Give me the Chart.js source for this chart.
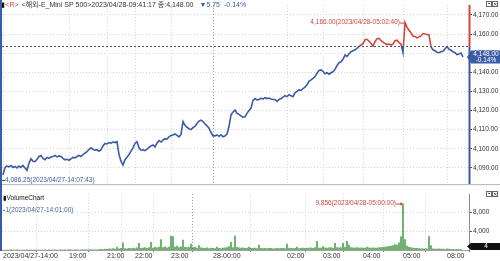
<!DOCTYPE html>
<html><head><meta charset="utf-8">
<script src="https://cdn.jsdelivr.net/npm/chart.js@4.4.0/dist/chart.umd.min.js"></script>
<style>
html,body{margin:0;padding:0;background:#fff;}
#wrap{position:relative;width:500px;height:261px;overflow:hidden;background:#fff;}
#c1{position:absolute;left:0;top:0;}
#c2{position:absolute;left:0;top:189px;}
#lb{position:absolute;left:0;top:0;width:2px;height:251px;background:#3a5ba6;}
</style></head><body>
<div id="wrap"><canvas id="c1" width="500" height="189"></canvas><canvas id="c2" width="500" height="72"></canvas><div id="lb"></div></div>
<script>
// ---------------- DATA ----------------
const price = [
4086.25,4090.25,4091,4090.5,4091.25,4090.25,4090.75,4090,4091,4090.25,
4091.25,4090,4088.75,4092.5,4094.75,4093.5,4093.25,4094.5,4096,4096.5,
4095,4094.25,4095.5,4095,4095.75,4096,4096.5,4095.75,4096.25,4096,
4095,4094.25,4094.5,4094,4094.75,4095.5,4095.25,4096,4096.5,4096,
4097,4097.75,4098.5,4099.75,4100.5,4099.75,4099.25,4099.5,4098.75,4099.5,
4101.5,4102.75,4102.5,4103.25,4103,4103.5,4103.25,4103.75,4097,4093.5,
4091.5,4094.25,4095.5,4097,4098.75,4100.5,4102.75,4103.75,4100.5,4099.25,
4099.5,4099,4099.75,4100.75,4101.5,4102,4101,4103,4104.25,4103.5,
4104.5,4105.25,4105,4106.25,4107,4107.25,4107.75,4107,4106.25,4107.5,
4114.25,4112.25,4111.25,4110.5,4110,4111,4111.75,4113.25,4114.5,4115,
4114.25,4113,4112,4110.75,4108.5,4106.75,4106.75,4107.25,4106.5,4107.25,
4106.25,4106.75,4107.75,4111.75,4117.75,4119.25,4120.25,4118.5,4118,4117.25,
4116.5,4116.75,4118.5,4120,4121.25,4125.25,4126.25,4125.5,4125.75,4126.5,
4126,4126.75,4126.25,4126.5,4126,4125.75,4125.75,4124.75,4125.75,4126.25,
4127,4127.75,4127.25,4128.25,4127.75,4127.25,4129.25,4130,4130.75,4130.5,
4131.5,4132.25,4133.5,4135.25,4136,4136.75,4137.75,4139.5,4141,4141.25,
4140.5,4139.25,4139.75,4139,4139.75,4140.25,4141.5,4143.5,4145,4145.5,
4146.75,4149,4148.25,4149.5,4150.75,4151.25,4151.75,4152.5,4153.5,4154.25,
4155,4157,4157.25,4156.25,4155,4153.75,4156,4157.5,4157.75,4156.5,
4155.75,4155,4154.5,4154.75,4154.25,4154.75,4156.5,4156.75,4155.5,4154.75,
4150.25,4166,4163.5,4162,4160.5,4159,4158.75,4158,4158.5,4159,
4160.25,4160,4159.75,4159.5,4153.25,4151.75,4151.25,4150.5,4150.25,4150.75,
4151,4152.25,4153.5,4152,4151.5,4150.75,4150.25,4149.25,4149.5,4150,
4148
];
const volume = [
1,40,60,30,80,50,40,90,60,50,
70,40,120,60,80,50,90,60,40,70,
50,80,60,100,40,70,90,50,60,80,
60,110,70,150,80,60,120,90,70,100,
80,130,90,110,160,100,120,90,140,200,
180,250,220,300,260,350,280,700,320,400,
1600,380,300,420,350,460,380,520,1500,400,
480,560,420,600,1700,500,640,520,700,2300,
600,720,540,680,3000,2900,700,900,600,760,
2200,640,580,700,1300,560,620,500,1000,540,
480,420,520,380,460,400,360,700,420,380,
460,520,600,800,1700,560,3000,620,540,480,
520,440,500,700,460,420,500,380,1100,440,
380,420,360,440,400,340,380,420,360,400,
440,380,1300,460,400,360,420,700,380,440,
480,420,500,460,520,440,560,1900,500,460,
800,540,480,520,580,500,1500,560,520,600,
1500,640,1900,1100,600,540,500,560,480,520,
460,500,700,540,480,520,460,500,600,560,
620,680,760,840,920,1000,1200,1100,1600,2900,
9856,2300,900,700,560,480,420,400,360,340,
320,300,340,2900,1000,300,280,260,300,240,
260,220,300,240,200,220,180,200,160,180,
4
];
const tickIdx    = [0, 33, 52, 66, 84, 105, 142, 160, 180, 200, 222];
const tickLabels = ['2023/04/27-14:00','19:00','21:00','22:00','23:00','28-00:00','02:00','03:00','04:00','05:00','08:00'];
const dayBreakIdx = 105;
const priceTicks  = [4090,4100,4110,4120,4130,4140,4150,4160,4170];
const volumeTicks = [4000,8000];
const prevClose = 4153.75;
const lastPrice = 4148.00;
const change = -5.75;
const changePct = -0.14;
const priceMaxTime = '2023/04/28-05:02:40';
const priceMinTime = '2023/04/27-14:07:43';
const volMaxTime = '2023/04/28-05:00:00';
const volMinTime = '2023/04/27-14:01:00';
const headerTag = '<R>';
const headerName = '<해외-E_Mini SP 500>';
const headerTime = '2023/04/28-09:41:17';
const headerCloseLabel = '종:';
const volumeTitle = 'VolumeChart';

// ---------------- STYLE ----------------
const FF = '"Liberation Sans","DejaVu Sans","Noto Sans CJK KR",sans-serif';
const BLUE = '#3a5ba6', RED = '#d2453b', GREEN = '#137f13', TXT = '#333';
const X_MIN = -0.5, X_MAX = 233;
const Y_MIN = 4081.53, Y_MAX = 4175.23;
const V_MAX = 11900;

const f2 = v => v.toLocaleString('en-US',{minimumFractionDigits:2,maximumFractionDigits:2});
const f0 = v => v.toLocaleString('en-US',{maximumFractionDigits:0});
const gridCol = c => (c.tick && c.tick.value === dayBreakIdx) ? '#9a9a9a' : '#d6d6d6';

function drawIcons(ctx, x, y){
  ctx.save();
  ctx.strokeStyle = '#666'; ctx.lineWidth = 1;
  ctx.strokeRect(x+0.5, y+0.5, 5, 5);
  ctx.fillStyle = '#666'; ctx.fillRect(x+2, y+2, 2, 1);
  ctx.strokeRect(x+6.5, y+0.5, 5, 5);
  ctx.beginPath(); ctx.moveTo(x+8, y+2); ctx.lineTo(x+10.5, y+4.5);
  ctx.moveTo(x+10.5, y+2); ctx.lineTo(x+8, y+4.5); ctx.stroke();
  ctx.restore();
}
function valueBox(ctx, left, cy, h, fill, lines, font){
  ctx.save();
  ctx.fillStyle = fill;
  ctx.beginPath();
  ctx.moveTo(left, cy);
  ctx.lineTo(left+4, cy-h/2); ctx.lineTo(500, cy-h/2); ctx.lineTo(500, cy+h/2); ctx.lineTo(left+4, cy+h/2);
  ctx.closePath(); ctx.fill();
  ctx.fillStyle = '#fff'; ctx.font = font; ctx.textAlign = 'center'; ctx.textBaseline = 'middle';
  const n = lines.length;
  lines.forEach((t,k)=>{ ctx.fillText(t, 486, cy + (k-(n-1)/2)*6.2); });
  ctx.restore();
}

// ---------------- TOP (price) ----------------
const topPlugin = {
  id:'topPlugin',
  beforeDatasetsDraw(chart){
    const {ctx, chartArea:a, scales:{y}} = chart;
    const yp = Math.round(y.getPixelForValue(prevClose))+0.5;
    ctx.save();
    ctx.strokeStyle = '#555'; ctx.lineWidth = 1; ctx.setLineDash([2,2]);
    ctx.beginPath(); ctx.moveTo(a.left, yp); ctx.lineTo(a.right, yp); ctx.stroke();
    ctx.restore();
  },
  afterDraw(chart){
    const {ctx, chartArea:a, scales:{x,y}} = chart;
    const yp = Math.round(y.getPixelForValue(prevClose))+0.5;
    ctx.save();
    ctx.strokeStyle = '#b8b8b8'; ctx.lineWidth = 1;
    ctx.beginPath(); ctx.moveTo(0, a.bottom+0.5); ctx.lineTo(500, a.bottom+0.5); ctx.stroke();
    ctx.lineWidth = 2;
    ctx.strokeStyle = RED; ctx.beginPath(); ctx.moveTo(a.right+0.5, a.top); ctx.lineTo(a.right+0.5, yp); ctx.stroke();
    ctx.strokeStyle = BLUE; ctx.beginPath(); ctx.moveTo(a.right+0.5, yp); ctx.lineTo(a.right+0.5, a.bottom); ctx.stroke();
    let mi = 0, ni = 0;
    price.forEach((v,i)=>{ if (v > price[mi]) mi = i; if (v < price[ni]) ni = i; });
    ctx.font = '6.5px '+FF; ctx.textBaseline = 'middle'; ctx.lineWidth = 1;
    const mx = x.getPixelForValue(mi), my = y.getPixelForValue(price[mi]);
    ctx.strokeStyle = RED; ctx.fillStyle = RED;
    ctx.beginPath(); ctx.moveTo(mx-5, my+0.5); ctx.lineTo(mx, my+0.5); ctx.stroke();
    ctx.textAlign = 'right';
    ctx.fillText(f2(price[mi]) + '(' + priceMaxTime + ')', mx-5, my);
    const nx = x.getPixelForValue(ni), ny = y.getPixelForValue(price[ni]) + 5;
    ctx.strokeStyle = BLUE; ctx.fillStyle = BLUE;
    ctx.beginPath(); ctx.moveTo(nx-1, Math.round(ny)+0.5); ctx.lineTo(nx+2, Math.round(ny)+0.5); ctx.stroke();
    ctx.textAlign = 'left';
    ctx.fillText(f2(price[ni]) + '(' + priceMinTime + ')', nx+2, ny);
    // header
    ctx.font = '7px '+FF; ctx.textAlign = 'left';
    let hx = 1; const hy = 5.5;
    ctx.fillStyle = '#111'; ctx.fillText('▮', hx, hy); hx += ctx.measureText('▮').width + 0.5;
    ctx.fillStyle = RED; ctx.fillText(headerTag, hx, hy); hx += ctx.measureText(headerTag).width + 3;
    ctx.fillStyle = TXT;
    const main = headerName + headerTime + ' ' + headerCloseLabel + f2(lastPrice);
    ctx.fillText(main, hx, hy); hx += ctx.measureText(main).width + 6;
    ctx.fillStyle = BLUE;
    const ch = '▼' + f2(Math.abs(change));
    ctx.fillText(ch, hx, hy); hx += ctx.measureText(ch).width + 4;
    ctx.fillText(changePct.toFixed(2) + '%', hx, hy);
    drawIcons(ctx, 486, 1);
    const cy = y.getPixelForValue(lastPrice);
    valueBox(ctx, 467, cy, 13, BLUE, [f2(lastPrice), changePct.toFixed(2)+'%'], '6.5px '+FF);
    ctx.restore();
  }
};

new Chart(document.getElementById('c1'), {
  type:'line',
  data:{datasets:[{
    data: price.map((v,i)=>({x:i, y:v})),
    borderWidth:1.6, pointRadius:0, tension:0, fill:false,
    borderColor: (c)=>{
      const ch = c.chart, a = ch.chartArea;
      if (!a) return BLUE;
      const yp = ch.scales.y.getPixelForValue(prevClose);
      const g = ch.ctx.createLinearGradient(0, a.top, 0, a.bottom);
      const f = Math.min(1, Math.max(0, (yp - a.top)/(a.bottom - a.top)));
      g.addColorStop(0, RED); g.addColorStop(f, RED); g.addColorStop(f, BLUE); g.addColorStop(1, BLUE);
      return g;
    }
  }]},
  options:{
    responsive:false, animation:false, events:[],
    layout:{padding:{left:2, right:0, top:0, bottom:0}},
    plugins:{legend:{display:false}, tooltip:{enabled:false}},
    scales:{
      x:{type:'linear', min:X_MIN, max:X_MAX,
         afterBuildTicks:s=>{ s.ticks = tickIdx.map(v=>({value:v})); },
         ticks:{display:false, autoSkip:false},
         grid:{color:gridCol, lineWidth:1, drawTicks:false},
         border:{display:false, dash:[1,2]},
         afterFit:s=>{ s.height = 1; }},
      y:{position:'right', min:Y_MIN, max:Y_MAX,
         afterBuildTicks:s=>{ s.ticks = priceTicks.map(v=>({value:v})); },
         ticks:{callback:v=>f2(v), font:{family:FF, size:6.5}, color:TXT, padding:1, autoSkip:false},
         grid:{color:'#d6d6d6', lineWidth:1, drawTicks:true, tickLength:3, tickColor:'#555'},
         border:{display:false, dash:[1,2]},
         afterFit:s=>{ s.width = 31; }}
    }
  },
  plugins:[topPlugin]
});

// ---------------- BOTTOM (volume) ----------------
const botPlugin = {
  id:'botPlugin',
  afterDraw(chart){
    const {ctx, chartArea:a, scales:{x,y}} = chart;
    ctx.save();
    ctx.strokeStyle = '#8a8a8a'; ctx.lineWidth = 1;
    ctx.beginPath(); ctx.moveTo(a.right+0.5, a.top); ctx.lineTo(a.right+0.5, a.bottom); ctx.stroke();
    ctx.strokeStyle = '#a0a0a0';
    ctx.beginPath(); ctx.moveTo(a.left, a.bottom+0.5); ctx.lineTo(a.right, a.bottom+0.5); ctx.stroke();
    ctx.font = '6.5px '+FF; ctx.textBaseline = 'middle'; ctx.textAlign = 'left';
    ctx.fillStyle = '#111'; ctx.fillText('▮' + volumeTitle, 3, a.top + 4.5);
    let mi = 0, ni = 0;
    volume.forEach((v,i)=>{ if (v > volume[mi]) mi = i; if (v < volume[ni]) ni = i; });
    ctx.fillStyle = '#4a66a0'; ctx.strokeStyle = '#4a66a0';
    ctx.beginPath(); ctx.moveTo(3, a.top+16.5); ctx.lineTo(5, a.top+16.5); ctx.stroke();
    ctx.fillText(f0(volume[ni]) + '(' + volMinTime + ')', 5.5, a.top + 16);
    const mx = x.getPixelForValue(mi), my = y.getPixelForValue(volume[mi]);
    ctx.fillStyle = RED; ctx.strokeStyle = RED;
    ctx.beginPath(); ctx.moveTo(mx-7, my+0.5); ctx.lineTo(mx-1, my+0.5); ctx.stroke();
    ctx.beginPath(); ctx.moveTo(mx, my+0.5); ctx.lineTo(mx-2.5, my-1.5); ctx.lineTo(mx-2.5, my+2.5); ctx.closePath(); ctx.fill();
    ctx.textAlign = 'right';
    ctx.fillText(f0(volume[mi]) + '(' + volMaxTime + ')', mx-7, my);
    drawIcons(ctx, 486, 2);
    const last = volume[volume.length-1];
    const cy = Math.min(y.getPixelForValue(last), a.bottom - 3.5);
    valueBox(ctx, 467, cy, 7, '#111', [f0(last)], '6.5px '+FF);
    ctx.restore();
  }
};

new Chart(document.getElementById('c2'), {
  type:'bar',
  data:{datasets:[{
    data: volume.map((v,i)=>({x:i, y:v})),
    backgroundColor:GREEN, borderWidth:0, barPercentage:0.6, categoryPercentage:1
  }]},
  options:{
    responsive:false, animation:false, events:[],
    layout:{padding:{left:2, right:0, top:0, bottom:0}},
    plugins:{legend:{display:false}, tooltip:{enabled:false}},
    scales:{
      x:{type:'linear', min:X_MIN, max:X_MAX, offset:false,
         afterBuildTicks:s=>{ s.ticks = tickIdx.map(v=>({value:v})); },
         ticks:{callback:v=>tickLabels[tickIdx.indexOf(v)], autoSkip:false, maxRotation:0, minRotation:0,
                align:'start', font:{family:FF, size:7}, color:TXT, padding:0},
         grid:{color:gridCol, lineWidth:1, drawTicks:true, tickLength:2, tickColor:'#777'},
         border:{display:false, dash:[1,2]},
         afterFit:s=>{ s.height = 11; }},
      y:{position:'right', min:0, max:V_MAX,
         afterBuildTicks:s=>{ s.ticks = volumeTicks.map(v=>({value:v})); },
         ticks:{callback:v=>f0(v), font:{family:FF, size:6.5}, color:TXT, padding:1, autoSkip:false},
         grid:{color:'#d6d6d6', lineWidth:1, drawTicks:true, tickLength:3, tickColor:'#555'},
         border:{display:false, dash:[1,2]},
         afterFit:s=>{ s.width = 31; }}
    }
  },
  plugins:[botPlugin]
});
</script>
</body></html>
